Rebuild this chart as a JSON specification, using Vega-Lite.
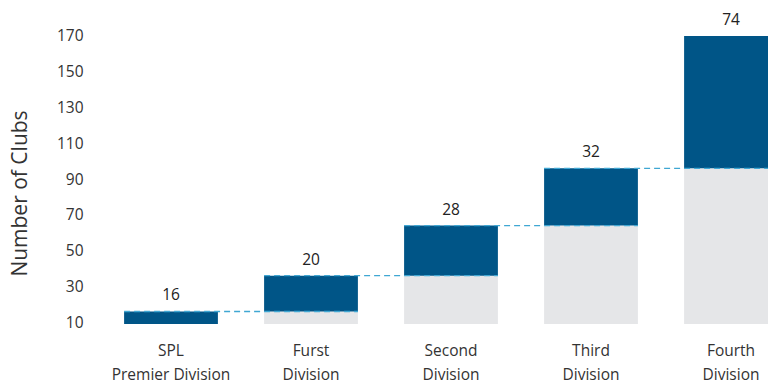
{
  "$schema": "https://vega.github.io/schema/vega-lite/v6.json",
  "autosize": {"type": "none"},
  "width": 700,
  "height": 297,
  "padding": {"left": 101, "top": 27, "right": 0, "bottom": 59},
  "background": "white",
  "config": {
    "view": {"stroke": null},
    "font": "Open Sans",
    "axis": {"labelFont": "Open Sans", "titleFont": "Open Sans", "labelColor": "#333333", "titleColor": "#333333"},
    "axisY": {"labelOverlap": false, "tickCount": 20}
  },
  "datasets": {
    "bars": [
      {"division": "SPL|Premier Division", "base": 0, "top": 16, "value": 16},
      {"division": "Furst|Division", "base": 16, "top": 36, "value": 20},
      {"division": "Second|Division", "base": 36, "top": 64, "value": 28},
      {"division": "Third|Division", "base": 64, "top": 96, "value": 32},
      {"division": "Fourth|Division", "base": 96, "top": 170, "value": 74}
    ],
    "links": [
      {"from": "SPL|Premier Division", "to": "Furst|Division", "level": 16},
      {"from": "Furst|Division", "to": "Second|Division", "level": 36},
      {"from": "Second|Division", "to": "Third|Division", "level": 64},
      {"from": "Third|Division", "to": "Fourth|Division", "level": 96}
    ]
  },
  "encoding": {
    "x": {
      "field": "division",
      "type": "nominal",
      "sort": null,
      "scale": {
        "domain": ["SPL|Premier Division", "Furst|Division", "Second|Division", "Third|Division", "Fourth|Division"],
        "paddingInner": 0.33,
        "paddingOuter": 0.165
      },
      "axis": {
        "title": null,
        "labelAngle": 0,
        "domain": false,
        "ticks": false,
        "labelPadding": 19,
        "labelFontSize": 15.5,
        "labelLineHeight": 24,
        "labelBaseline": "top",
        "labelExpr": "split(datum.label, '|')"
      }
    }
  },
  "layer": [
    {
      "data": {"name": "bars"},
      "mark": {"type": "bar", "color": "#e5e6e8"},
      "encoding": {
        "y": {
          "field": "base",
          "type": "quantitative",
          "scale": {"domain": [9, 175], "nice": false, "zero": false, "clamp": true},
          "axis": {
            "title": "Number of Clubs",
            "titleFontSize": 21,
            "titleFontWeight": "normal",
            "titleX": -81,
            "titleY": 166,
            "titleAngle": -90,
            "titleAlign": "center",
            "titleBaseline": "middle",
            "values": [10, 30, 50, 70, 90, 110, 130, 150, 170],
            "tickCount": 20,
            "labelOverlap": false,
            "grid": false,
            "domain": false,
            "ticks": false,
            "labelPadding": 18,
            "labelFontSize": 15.5
          }
        },
        "y2": {"datum": 0}
      }
    },
    {
      "data": {"name": "bars"},
      "mark": {"type": "bar", "color": "#005587"},
      "encoding": {
        "y": {"field": "base", "type": "quantitative"},
        "y2": {"field": "top"}
      }
    },
    {
      "data": {"name": "links"},
      "mark": {"type": "rule", "color": "#3fa7d3", "strokeWidth": 1.3, "strokeDash": [6, 4]},
      "encoding": {
        "x": {"field": "from", "type": "nominal", "bandPosition": 0},
        "x2": {"field": "to", "bandPosition": 1},
        "y": {"field": "level", "type": "quantitative"}
      }
    },
    {
      "data": {"name": "bars"},
      "mark": {"type": "text", "fontSize": 15.5, "color": "#222222", "dy": -16, "baseline": "middle"},
      "encoding": {
        "y": {"field": "top", "type": "quantitative"},
        "text": {"field": "value", "type": "quantitative"}
      }
    }
  ]
}
